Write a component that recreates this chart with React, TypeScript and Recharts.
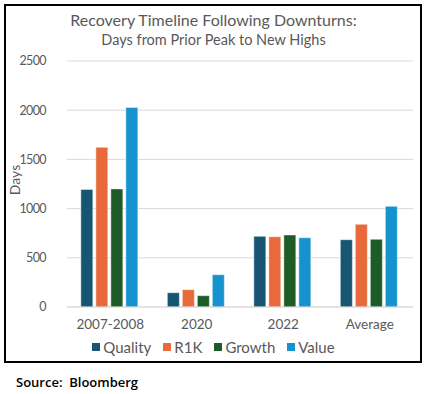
import { BarChart, Bar, XAxis, YAxis, CartesianGrid } from "recharts";

const periods = ["2007-2008", "2020", "2022", "Average"];
const quality = [1195, 145, 718, 684];
const r1k = [1623, 176, 714, 840];
const growth = [1200, 115, 732, 688];
const value = [2028, 328, 704, 1023];
const yTicks = [0, 500, 1000, 1500, 2000, 2500];

const seriesList = [
  { key: "quality", name: "Quality", color: "#175673" },
  { key: "r1k", name: "R1K", color: "#E8693A" },
  { key: "growth", name: "Growth", color: "#1D5C27" },
  { key: "value", name: "Value", color: "#1693CF" },
];

const data = periods.map((p, i) => ({
  period: p,
  quality: quality[i],
  r1k: r1k[i],
  growth: growth[i],
  value: value[i],
}));

const font = "'Lato', 'Open Sans', sans-serif";
const grey = "#595959";

function LegendRow() {
  return (
    <div
      style={{
        display: "flex",
        justifyContent: "center",
        fontFamily: font,
        fontSize: 15,
        color: grey,
        lineHeight: "20px",
      }}
    >
      {seriesList.map((s) => (
        <div key={s.key} style={{ display: "flex", alignItems: "center", marginRight: 12 }}>
          <span style={{ width: 8, height: 8, background: s.color, marginRight: 3, display: "inline-block" }} />
          <span>{s.name}</span>
        </div>
      ))}
    </div>
  );
}

export default function App() {
  return (
    <div style={{ position: "absolute", left: 0, top: 0, width: 427, height: 394, background: "#fff" }}>
      <div
        style={{
          position: "absolute",
          left: 4,
          top: 4,
          width: 414,
          height: 355,
          border: "2px solid #000",
        }}
      />
      <div
        style={{
          position: "absolute",
          left: 0,
          width: 427,
          top: 10,
          textAlign: "center",
          fontFamily: font,
          color: grey,
          lineHeight: "20px",
        }}
      >
        <div style={{ fontSize: 16 }}>Recovery Timeline Following Downturns:</div>
        <div style={{ fontSize: 14.5 }}>Days from Prior Peak to New Highs</div>
      </div>
      <div style={{ position: "absolute", left: 0, top: 0 }}>
        <BarChart
          width={427}
          height={394}
          data={data}
          margin={{ top: 61, right: 14, bottom: 57, left: 0 }}
          barCategoryGap="16%"
          barGap={3}
        >
          <CartesianGrid vertical={false} stroke="#d9d9d9" />
          <XAxis
            dataKey="period"
            height={30}
            axisLine={{ stroke: "#d9d9d9" }}
            tickLine={false}
            tick={{ fill: grey, fontSize: 13.5, fontFamily: font }}
            tickSize={0}
            tickMargin={12}
          />
          <YAxis
            width={67}
            domain={[0, 2500]}
            ticks={yTicks}
            axisLine={false}
            tickLine={false}
            tickSize={0}
            tickMargin={21}
            tick={{ fill: grey, fontSize: 12.5, fontFamily: font, letterSpacing: -0.6 }}
          />
          {seriesList.map((s) => (
            <Bar
              key={s.key}
              dataKey={s.key}
              name={s.name}
              fill={s.color}
              stroke="rgba(255,255,255,0.45)"
              strokeWidth={1}
              isAnimationActive={false}
            />
          ))}
        </BarChart>
      </div>
      <div
        style={{
          position: "absolute",
          left: 15 - 20,
          top: 180 - 10,
          width: 40,
          height: 20,
          lineHeight: "20px",
          textAlign: "center",
          transform: "rotate(-90deg)",
          fontFamily: font,
          fontSize: 14,
          color: grey,
        }}
      >
        Days
      </div>
      <div style={{ position: "absolute", left: 0, width: 427, top: 337, paddingLeft: 12, boxSizing: "border-box" }}>
        <LegendRow />
      </div>
      <div
        style={{
          position: "absolute",
          left: 16,
          top: 373,
          fontFamily: "'Open Sans', sans-serif",
          fontWeight: 600,
          fontSize: 13,
          color: "#000",
        }}
      >
        Source:&nbsp; Bloomberg
      </div>
    </div>
  );
}
